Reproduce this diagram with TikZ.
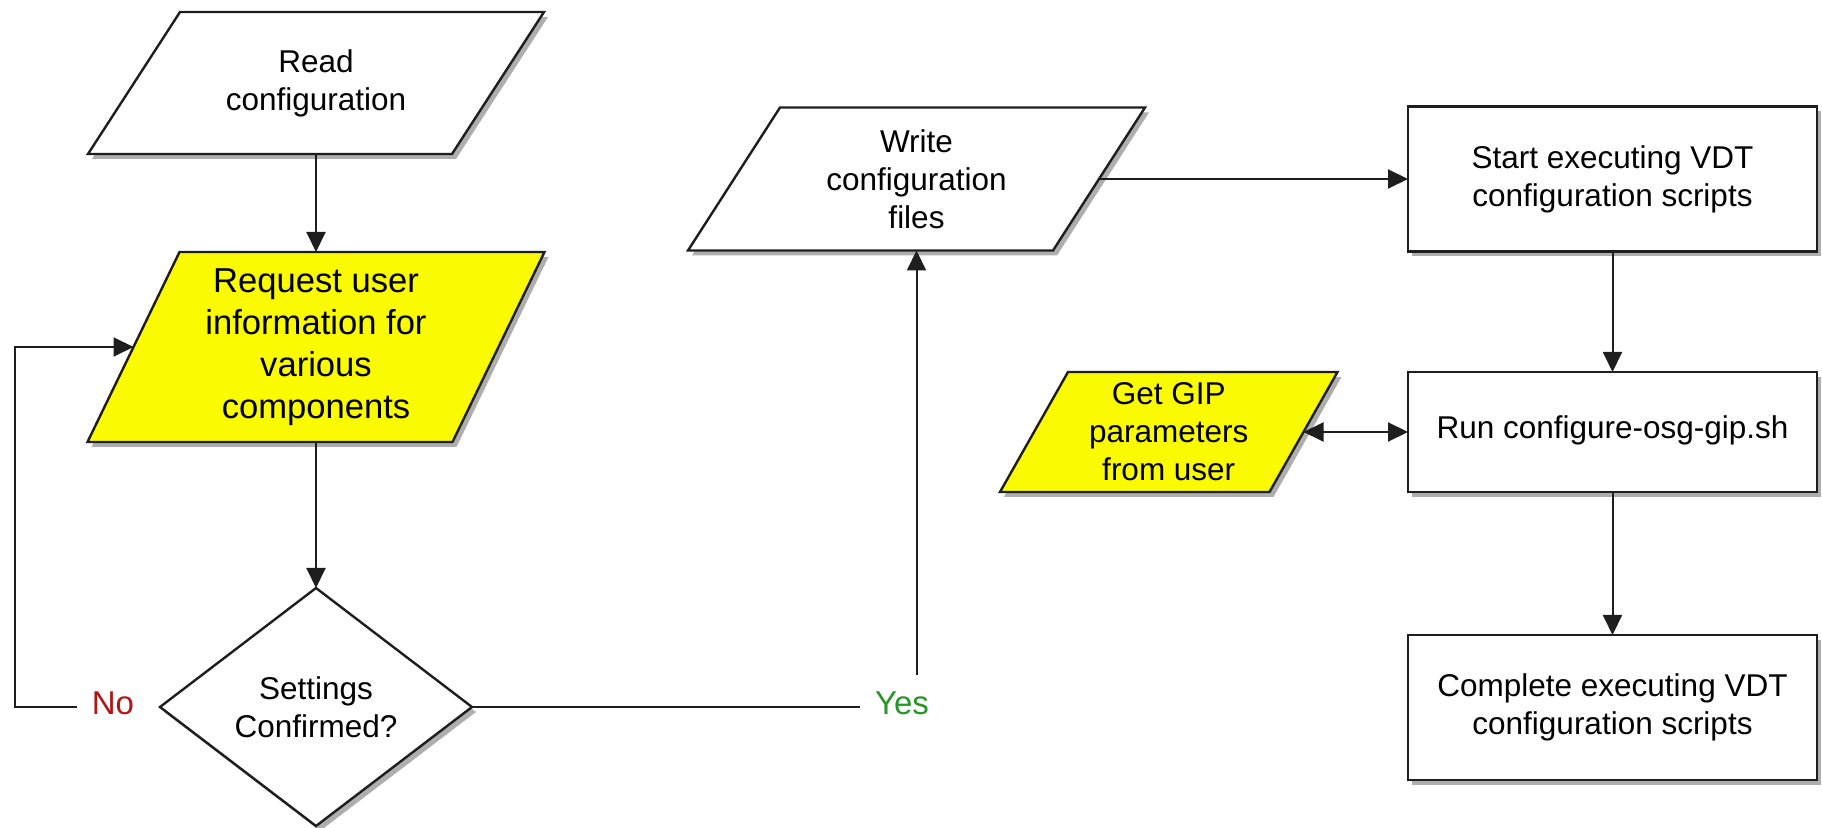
\documentclass[tikz,border=0pt]{standalone}
\usepackage{fontspec}
\setmainfont{Liberation Sans}
\usetikzlibrary{shapes.geometric,arrows.meta,shadows,backgrounds}
\definecolor{ylw}{RGB}{250,250,0}
\definecolor{nored}{RGB}{175,22,22}
\definecolor{yesgreen}{RGB}{38,150,38}
\definecolor{linec}{RGB}{30,30,30}
\newcommand{\fsn}{\fontsize{15.75pt}{19pt}\selectfont}
\newcommand{\fsr}{\fontsize{17.3pt}{21pt}\selectfont}
\newcommand{\parashape}[3]{%
  \path[#3] ([xshift=#2]#1.north west) -- ([xshift=#2]#1.north east)
    -- ([xshift=-#2]#1.south east) -- ([xshift=-#2]#1.south west) -- cycle;}
\tikzset{
  shd/.style={drop shadow={shadow xshift=2pt, shadow yshift=-2.5pt, fill=black!70, opacity=0.45}},
  base/.style={font=\fsn, text=black, align=center, inner sep=0pt, outer sep=0pt},
  paranode/.style={base, shape=rectangle, draw=none},
  parafill/.style={shd, draw=linec, line width=1.2pt, line join=miter, fill=#1},
  procbox/.style={base, shd, shape=rectangle, draw=linec, line width=1.2pt, fill=white,
    minimum width=204.5pt},
  decision/.style={base, shd, shape=diamond, draw=linec, line width=1.2pt, fill=white,
    minimum width=156pt, minimum height=119pt},
  conn/.style={draw=linec, line width=1pt},
  arr/.style={conn, -{Triangle[length=10pt,width=9.5pt]}},
  darr/.style={conn, {Triangle[length=10pt,width=9.5pt]}-{Triangle[length=10pt,width=9.5pt]}},
  lbl/.style={font=\fontsize{16.5pt}{19pt}\selectfont, inner sep=0pt, outer sep=0pt, align=center},
}
\begin{document}
\begin{tikzpicture}[x=0.5pt, y=-0.5pt]
\useasboundingbox (0,0) rectangle (1822,828);

% parallelogram nodes (text holders)
\node[paranode, minimum width=182pt, minimum height=71pt] (read) at (316,83) {Read\\configuration};
\node[paranode, font=\fsr, minimum width=182.5pt, minimum height=95pt] (request) at (316,347) {Request user\\information for\\various\\components};
\node[paranode, minimum width=182.5pt, minimum height=71.5pt] (write) at (916.5,179) {Write\\configuration\\files};
\node[paranode, minimum width=134.75pt, minimum height=60pt] (get) at (1168.75,432) {Get GIP\\parameters\\from user};

\begin{pgfonlayer}{background}
  \parashape{read}{23pt}{parafill=white}
  \parashape{request}{23pt}{parafill=ylw}
  \parashape{write}{23pt}{parafill=white}
  \parashape{get}{17pt}{parafill=ylw}
\end{pgfonlayer}

% decision
\node[decision] (conf) at (316,707) {Settings\\Confirmed?};

% process boxes
\node[procbox, minimum height=72.5pt] (start) at (1612.5,179) {Start executing VDT\\configuration scripts};
\node[procbox, minimum height=60pt] (run) at (1612.5,432) {\raisebox{5pt}{Run configure-osg-gip.sh}};
\node[procbox, minimum height=72.5pt] (complete) at (1612.5,707.5) {Complete executing VDT\\configuration scripts};

% branch labels
\node[lbl, text=nored, minimum width=36pt, minimum height=28pt] (no) at (113,703) {No};
\node[lbl, text=yesgreen, minimum width=42pt, minimum height=28pt] (yes) at (902,703) {Yes};
\coordinate (loop) at (15,707);

% connectors
\draw[arr] (read.south) -- (request.north);
\draw[arr] (request.south) -- (conf.north);
\draw[arr] (no.west |- conf.west) -- (loop) |- (request.west);
\draw[conn] (conf.east) -- (conf.east -| yes.west);
\draw[arr] (yes.north -| write.south) -- (write.south);
\draw[arr] (write.east) -- (write.east -| start.west);
\draw[arr] (start.south) -- (run.north);
\draw[darr] (get.east) -- (run.west);
\draw[arr] (run.south) -- (complete.north);
\end{tikzpicture}
\end{document}
